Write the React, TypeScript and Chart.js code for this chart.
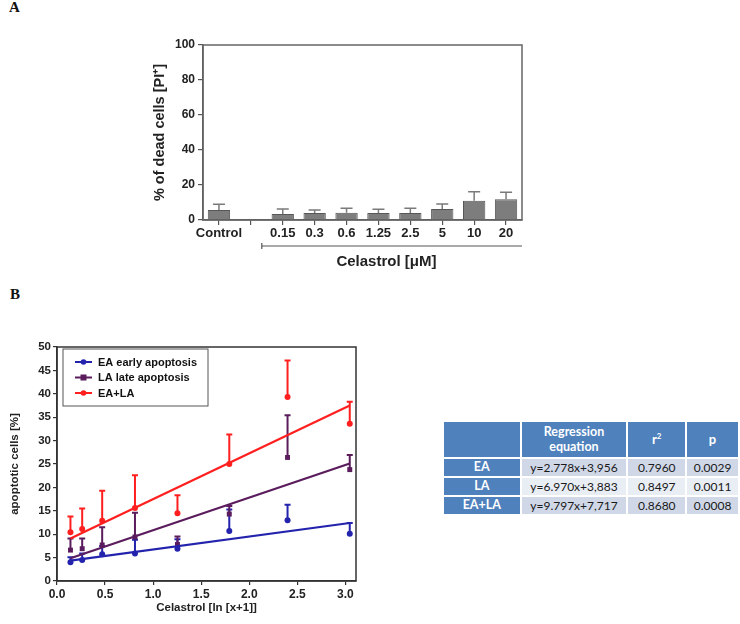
import React, { useEffect, useRef } from 'react';
import { Chart, registerables } from 'chart.js';

Chart.register(...registerables);

// ---------- Panel A data ----------
const barCategories = ['Control', '', '0.15', '0.3', '0.6', '1.25', '2.5', '5', '10', '20'];
const barMeans = [5.7, null, 3.4, 4.0, 4.2, 4.0, 4.0, 6.3, 11.0, 11.8];
const barUpper = [9.0, null, 6.3, 5.7, 6.7, 6.1, 6.7, 9.1, 16.2, 15.8];
const barYMax = 100;
const barYStep = 20;

// ---------- Panel B data ----------
const doseLnX = [0.14, 0.262, 0.47, 0.811, 1.253, 1.792, 2.398, 3.045];
const eaMeans = [4.0, 4.5, 5.7, 5.9, 6.9, 10.7, 13.0, 10.1];
const eaUpper = [5.1, 5.9, 7.5, 8.8, 8.9, 15.3, 16.3, 12.4];
const laMeans = [6.6, 6.9, 7.7, 9.4, 7.8, 14.3, 26.4, 23.8];
const laUpper = [9.1, 9.1, 11.5, 14.6, 9.5, 16.0, 35.4, 26.9];
const sumMeans = [10.4, 11.1, 12.9, 15.6, 14.5, 25.0, 39.3, 33.6];
const sumUpper = [13.8, 15.5, 19.3, 22.6, 18.3, 31.3, 47.1, 38.3];
const fitX = [0.14, 3.045];
const eaFit = [4.35, 12.4];
const laFit = [4.86, 25.1];
const sumFit = [9.09, 37.5];
const seriesLabels = ['EA early apoptosis', 'LA late apoptosis', 'EA+LA'];

// ---------- Table data ----------
const tableRows = ['EA', 'LA', 'EA+LA'];
const equations = ['y=2.778x+3,956', 'y=6.970x+3,883', 'y=9.797x+7,717'];
const rSquared = ['0.7960', '0.8497', '0.8680'];
const pValues = ['0.0029', '0.0011', '0.0008'];

const SANS = 'Liberation Sans, Arial, Helvetica, sans-serif';
const BLUE = '#2323ad';
const PURPLE = '#5a1c5c';
const RED = '#ff1f1f';

function BarChartA() {
  const ref = useRef<HTMLCanvasElement>(null);
  useEffect(() => {
    const xFont = { family: SANS, weight: 'bold' as const, size: 13 };
    const yFont = { family: SANS, weight: 'bold' as const, size: 12 };
    const titleFont = { family: SANS, weight: 'bold' as const, size: 14.5 };
    const extras = {
      id: 'barExtras',
      afterDatasetsDraw(chart: any) {
        const { ctx, scales } = chart;
        const x = scales.x;
        const y = scales.y;
        ctx.save();
        ctx.strokeStyle = '#7a7a7a';
        ctx.lineWidth = 1.5;
        barUpper.forEach((u, i) => {
          const m = barMeans[i];
          if (u == null || m == null) return;
          const px = x.getPixelForValue(i);
          const y0 = y.getPixelForValue(m);
          const y1 = y.getPixelForValue(u);
          ctx.beginPath();
          ctx.moveTo(px, y0);
          ctx.lineTo(px, y1);
          ctx.moveTo(px - 6, y1);
          ctx.lineTo(px + 6, y1);
          ctx.stroke();
        });
        ctx.restore();
      },
      afterDraw(chart: any) {
        const { ctx, scales, chartArea } = chart;
        const x = scales.x;
        ctx.save();
        // frame
        ctx.strokeStyle = '#666';
        ctx.lineWidth = 1.5;
        ctx.strokeRect(chartArea.left, chartArea.top, chartArea.right - chartArea.left, chartArea.bottom - chartArea.top);
        // bracket under Celastrol doses
        const step = x.getPixelForValue(3) - x.getPixelForValue(2);
        const bx0 = x.getPixelForValue(2) - step / 2 - 5;
        const bx1 = chartArea.right;
        const by = chartArea.bottom + 26;
        ctx.strokeStyle = '#555';
        ctx.lineWidth = 1.2;
        ctx.beginPath();
        ctx.moveTo(bx0, by);
        ctx.lineTo(bx1, by);
        ctx.moveTo(bx0, by - 3);
        ctx.lineTo(bx0, by + 3);
        ctx.stroke();
        ctx.fillStyle = '#222';
        ctx.font = `bold 15px ${SANS}`;
        ctx.textAlign = 'center';
        ctx.textBaseline = 'middle';
        ctx.fillText('Celastrol [\u03BCM]', (x.getPixelForValue(1) + chartArea.right) / 2, chartArea.bottom + 42);
        ctx.restore();
      },
    };
    const chart = new Chart(ref.current!, {
      type: 'bar',
      data: {
        labels: barCategories,
        datasets: [
          {
            data: barMeans as any,
            backgroundColor: '#7d7d7d',
            borderColor: '#575757',
            borderWidth: 1,
            barPercentage: 0.7,
            categoryPercentage: 1,
          },
        ],
      },
      options: {
        animation: false,
        responsive: false,
        maintainAspectRatio: false,
        layout: { padding: { left: 0, right: 18, top: 15, bottom: 0 } },
        plugins: { legend: { display: false }, tooltip: { enabled: false } },
        scales: {
          x: {
            ticks: { font: xFont, color: '#222', padding: 1, maxRotation: 0, autoSkip: false },
            grid: { display: true, drawOnChartArea: false, drawTicks: true, tickLength: 5, offset: false, color: '#555', lineWidth: 1.2 },
            border: { display: true, color: '#555', width: 1.5 },
            afterFit: (s: any) => { s.height = 60; },
          },
          y: {
            min: 0,
            max: barYMax,
            ticks: { stepSize: barYStep, font: yFont, color: '#222', padding: 3 },
            grid: { drawOnChartArea: false, drawTicks: true, tickLength: 5, color: '#555', lineWidth: 1.2 },
            border: { display: true, color: '#555', width: 1.5 },
            title: { display: true, text: '% of dead cells [PI\u207A]', font: titleFont, color: '#222', padding: { top: 51, bottom: 0 } },
            afterFit: (s: any) => { s.width = 103; },
          },
        },
      },
      plugins: [extras],
    } as any);
    return () => chart.destroy();
  }, []);
  return (
    <canvas
      ref={ref}
      width={440}
      height={250}
      style={{ position: 'absolute', left: 100, top: 30, width: 440, height: 250, display: 'block' }}
    />
  );
}

function ScatterChartB() {
  const ref = useRef<HTMLCanvasElement>(null);
  useEffect(() => {
    const xTickFont = { family: SANS, weight: 'bold' as const, size: 12 };
    const yTickFont = { family: SANS, weight: 'bold' as const, size: 11.5 };
    const titleFont = { family: SANS, weight: 'bold' as const, size: 11.5 };
    const colors = [BLUE, PURPLE, RED];
    const styles = ['circle', 'rect', 'circle'];
    const radii = [3, 3.5, 3];
    const means = [eaMeans, laMeans, sumMeans];
    const uppers = [eaUpper, laUpper, sumUpper];
    const fits = [eaFit, laFit, sumFit];

    const pointSets = means.map((arr, k) => ({
      label: seriesLabels[k],
      data: doseLnX.map((x, i) => ({ x, y: arr[i] })),
      showLine: false,
      backgroundColor: colors[k],
      borderColor: colors[k],
      pointStyle: styles[k],
      pointRadius: radii[k],
      pointBorderWidth: 0,
    }));
    const fitSets = fits.map((arr, k) => ({
      label: seriesLabels[k] + ' fit',
      data: fitX.map((x, i) => ({ x, y: arr[i] })),
      showLine: true,
      borderColor: colors[k],
      backgroundColor: colors[k],
      borderWidth: 2.2,
      pointRadius: 0,
    }));

    const extras = {
      id: 'scatterExtras',
      beforeDatasetsDraw(chart: any) {
        const { ctx, scales } = chart;
        const x = scales.x;
        const y = scales.y;
        ctx.save();
        ctx.lineWidth = 2;
        uppers.forEach((up, k) => {
          ctx.strokeStyle = colors[k];
          up.forEach((u, i) => {
            const px = x.getPixelForValue(doseLnX[i]);
            const y0 = y.getPixelForValue(means[k][i]);
            const y1 = y.getPixelForValue(u);
            ctx.beginPath();
            ctx.moveTo(px, y0);
            ctx.lineTo(px, y1);
            ctx.moveTo(px - 3, y1);
            ctx.lineTo(px + 3, y1);
            ctx.stroke();
          });
        });
        ctx.restore();
      },
      afterDraw(chart: any) {
        const { ctx, chartArea } = chart;
        ctx.save();
        ctx.strokeStyle = '#333';
        ctx.lineWidth = 1.5;
        ctx.strokeRect(chartArea.left, chartArea.top, chartArea.right - chartArea.left, chartArea.bottom - chartArea.top);
        // legend box
        const lx = chartArea.left + 6;
        const ly = chartArea.top + 2;
        ctx.fillStyle = '#fff';
        ctx.fillRect(lx, ly, 145, 57);
        ctx.strokeStyle = '#555';
        ctx.lineWidth = 1;
        ctx.strokeRect(lx, ly, 145, 57);
        const rows = [13, 28.5, 44];
        ctx.font = `bold 11px ${SANS}`;
        ctx.textBaseline = 'middle';
        ctx.textAlign = 'left';
        seriesLabels.forEach((lab, k) => {
          const cy = ly + rows[k];
          ctx.strokeStyle = colors[k];
          ctx.lineWidth = 2;
          ctx.beginPath();
          ctx.moveTo(lx + 12, cy);
          ctx.lineTo(lx + 29, cy);
          ctx.stroke();
          ctx.fillStyle = colors[k];
          if (styles[k] === 'rect') {
            ctx.fillRect(lx + 20.5 - 3, cy - 3, 6, 6);
          } else {
            ctx.beginPath();
            ctx.arc(lx + 20.5, cy, 2.8, 0, Math.PI * 2);
            ctx.fill();
          }
          ctx.fillStyle = '#111';
          ctx.fillText(lab, lx + 35, cy + 0.5);
        });
        ctx.restore();
      },
    };

    const chart = new Chart(ref.current!, {
      type: 'scatter',
      data: { datasets: [...fitSets, ...pointSets] as any },
      options: {
        animation: false,
        responsive: false,
        maintainAspectRatio: false,
        layout: { padding: { left: 0, right: 14, top: 17, bottom: 0 } },
        plugins: { legend: { display: false }, tooltip: { enabled: false } },
        scales: {
          x: {
            type: 'linear',
            min: 0,
            max: 3.11,
            ticks: {
              stepSize: 0.5,
              includeBounds: false,
              font: xTickFont,
              color: '#222',
              padding: 2,
              callback: (v: any) => Number(v).toFixed(1),
            },
            grid: { drawOnChartArea: false, drawTicks: true, tickLength: 4, color: '#333', lineWidth: 1.2 },
            border: { display: true, color: '#333', width: 1.5 },
            title: { display: true, text: 'Celastrol [ln [x+1]]', font: titleFont, color: '#222', padding: { top: 0, bottom: 9 } },
            afterFit: (s: any) => { s.height = 43; },
          },
          y: {
            min: 0,
            max: 50,
            ticks: { stepSize: 5, font: yTickFont, color: '#222', padding: 2 },
            grid: { drawOnChartArea: false, drawTicks: true, tickLength: 4, color: '#333', lineWidth: 1.2 },
            border: { display: true, color: '#333', width: 1.5 },
            title: { display: true, text: 'apoptotic cells [%]', font: titleFont, color: '#222', padding: { top: 8, bottom: 0 } },
            afterFit: (s: any) => { s.width = 57; },
          },
        },
      },
      plugins: [extras],
    } as any);
    return () => chart.destroy();
  }, []);
  return (
    <canvas
      ref={ref}
      width={370}
      height={294}
      style={{ position: 'absolute', left: 0, top: 330, width: 370, height: 294, display: 'block' }}
    />
  );
}

function RegressionTable() {
  const head: React.CSSProperties = {
    background: '#4f81bd',
    color: '#fff',
    fontWeight: 'bold',
    textAlign: 'center',
    padding: 0,
    fontSize: 12.5,
  };
  const firstCol: React.CSSProperties = { ...head, height: 17 };
  const cell = (k: number): React.CSSProperties => ({
    background: k % 2 === 0 ? '#d0d8e8' : '#e9edf4',
    color: '#1a1a1a',
    textAlign: 'center',
    padding: 0,
    fontSize: 12,
    height: 17,
  });
  return (
    <table
      style={{
        position: 'absolute',
        left: 442,
        top: 420,
        borderCollapse: 'separate',
        borderSpacing: 2,
        fontFamily: 'Lato, "Open Sans", sans-serif',
        lineHeight: 1.15,
        tableLayout: 'fixed',
      }}
    >
      <colgroup>
        <col style={{ width: 76 }} />
        <col style={{ width: 105 }} />
        <col style={{ width: 57 }} />
        <col style={{ width: 51 }} />
      </colgroup>
      <thead>
        <tr style={{ height: 35 }}>
          <th style={head}></th>
          <th style={head}>Regression<br />equation</th>
          <th style={{ ...head, fontSize: 13 }}>r<sup style={{ fontSize: 8 }}>2</sup></th>
          <th style={{ ...head, fontSize: 13 }}>p</th>
        </tr>
      </thead>
      <tbody>
        {tableRows.map((r, k) => (
          <tr key={r}>
            <td style={firstCol}>{r}</td>
            <td style={cell(k)}>{equations[k]}</td>
            <td style={cell(k)}>{rSquared[k]}</td>
            <td style={cell(k)}>{pValues[k]}</td>
          </tr>
        ))}
      </tbody>
    </table>
  );
}

export default function App() {
  const panelLabel: React.CSSProperties = {
    position: 'absolute',
    fontFamily: '"Liberation Serif", "Times New Roman", serif',
    fontWeight: 'bold',
    fontSize: 15,
    lineHeight: '17px',
    color: '#111',
  };
  return (
    <div style={{ position: 'absolute', left: 0, top: 0, width: 740, height: 624, background: '#fff', overflow: 'hidden' }}>
      <div style={{ ...panelLabel, left: 9, top: -1 }}>A</div>
      <div style={{ ...panelLabel, left: 10, top: 286 }}>B</div>
      <BarChartA />
      <ScatterChartB />
      <RegressionTable />
    </div>
  );
}
